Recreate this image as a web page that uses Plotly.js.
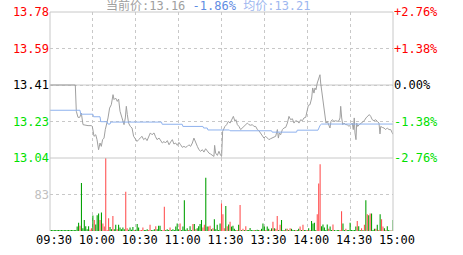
<!DOCTYPE html>
<html><head><meta charset="utf-8">
<script src="https://cdn.plot.ly/plotly-3.0.1.min.js"></script>
<style>html,body{margin:0;padding:0;background:#fff}#chart{width:463px;height:255px}</style>
</head><body><div id="chart"></div>
<script>
// ---------- data ----------
const prevClose = 13.41;
const lastPrice = '13.16';
const changePct = '-1.86%';
const avgPrice = '13.21';

const timeTickMinutes = [0, 30, 60, 90, 120, 150, 180, 210, 240];
const timeTickLabels = ['09:30', '10:00', '10:30', '11:00', '11:30', '13:30', '14:00', '14:30', '15:00'];

const priceTickVals = [13.04, 13.225, 13.41, 13.595, 13.78];
const priceTickLabels = ['13.04', '13.23', '13.41', '13.59', '13.78'];
const pctTickLabels = ['-2.76%', '-1.38%', '0.00%', '+1.38%', '+2.76%'];

const volTickVals = [83];
const volTickLabels = ['83'];
const volMax = 166;

// price line (minute since 09:30, price)
const priceT = [0, 17.7, 18.4, 19.6, 20.8, 21.9, 23.1, 24.3, 26.6, 28.9, 29.6, 30.8, 32.0, 32.9, 34.0, 35.0, 35.9, 36.8, 37.8, 38.7,
  39.6, 40.6, 41.7, 42.9, 44.1, 44.8, 45.9, 47.1, 48.0, 49.0, 50.4, 51.8, 52.7, 53.4, 54.1, 55.0, 56.2, 57.4, 58.5, 59.7,
  60.9, 62.0, 63.2, 64.4, 65.5, 66.7, 67.9, 69.0, 70.2, 71.4, 72.8, 73.7, 74.9, 76.3, 77.4, 78.6, 79.8, 80.7, 82.1, 83.3,
  84.4, 85.6, 86.7, 87.9, 89.1, 90.2, 91.4, 92.6, 93.7, 94.9, 96.1, 97.2, 98.4, 99.6, 100.7, 101.9, 103.1, 104.2, 105.4, 106.6,
  107.7, 108.9, 110.1, 111.2, 112.4, 113.6, 114.7, 115.2, 115.9, 117.1, 118.2, 119.4, 120.1, 120.8,
  122.4, 123.6, 124.8, 126.0, 127.1, 128.3, 129.4, 130.1, 131.1, 132.2, 133.4, 134.6, 135.7, 136.9, 138.1, 139.2, 140.4, 141.6,
  142.7, 143.9, 145.1, 146.2, 147.4, 148.6, 149.7, 150.9, 152.1, 153.2, 154.4, 155.6, 156.7, 157.9, 159.1, 159.8, 160.5, 161.4,
  162.6, 163.7, 164.9, 166.1, 167.2, 168.4, 169.6, 170.7, 171.9, 173.1, 174.2, 175.4, 176.6, 177.7, 178.9, 179.6, 180.8, 181.9,
  183.1, 183.8, 184.7, 185.4, 186.1, 187.0, 188.0, 188.9, 189.4, 190.1, 190.8, 191.7, 192.4, 193.1, 194.0, 195.2, 195.9, 196.6,
  197.5, 198.7, 199.9, 201.0, 202.2, 202.9, 203.4, 204.1, 204.8, 205.7, 206.9, 208.0, 209.2, 210.4, 211.5, 212.2, 212.9, 213.4,
  214.1, 214.6, 215.3, 216.4, 217.6, 218.8, 219.9, 221.1, 222.3, 223.4, 224.4, 225.5, 226.7, 227.9, 229.0, 230.2, 230.9, 231.4,
  232.5, 233.7, 234.9, 236.0, 237.2, 238.4, 239.5, 240];
const priceV = [13.41, 13.41, 13.277, 13.246, 13.246, 13.268, 13.209, 13.206, 13.204, 13.204, 13.200, 13.150, 13.158, 13.133, 13.082, 13.116, 13.099, 13.133, 13.141, 13.184,
  13.209, 13.243, 13.293, 13.310, 13.361, 13.336, 13.344, 13.327, 13.339, 13.277, 13.243, 13.209, 13.243, 13.302, 13.260, 13.217, 13.200, 13.192, 13.150, 13.133,
  13.124, 13.133, 13.141, 13.150, 13.133, 13.141, 13.128, 13.150, 13.167, 13.158, 13.167, 13.150, 13.133, 13.141, 13.128, 13.116, 13.124, 13.116, 13.128, 13.107,
  13.121, 13.133, 13.111, 13.116, 13.104, 13.119, 13.107, 13.094, 13.099, 13.094, 13.099, 13.107, 13.099, 13.116, 13.141, 13.116, 13.099, 13.082, 13.074, 13.082,
  13.070, 13.087, 13.074, 13.065, 13.060, 13.053, 13.048, 13.104, 13.065, 13.053, 13.074, 13.053, 13.050, 13.175,
  13.200, 13.209, 13.226, 13.217, 13.234, 13.251, 13.226, 13.234, 13.209, 13.200, 13.184, 13.192, 13.200, 13.209, 13.217, 13.209, 13.206, 13.209,
  13.200, 13.200, 13.184, 13.178, 13.167, 13.150, 13.141, 13.150, 13.141, 13.133, 13.138, 13.141, 13.146, 13.150, 13.184, 13.141, 13.167, 13.158,
  13.184, 13.192, 13.195, 13.217, 13.251, 13.234, 13.239, 13.217, 13.229, 13.226, 13.217, 13.234, 13.229, 13.243, 13.246, 13.277, 13.307, 13.310,
  13.344, 13.395, 13.369, 13.395, 13.386, 13.420, 13.437, 13.462, 13.420, 13.378, 13.336, 13.293, 13.243, 13.217, 13.226, 13.209, 13.192, 13.226,
  13.234, 13.226, 13.229, 13.226, 13.229, 13.243, 13.302, 13.243, 13.209, 13.217, 13.209, 13.209, 13.200, 13.209, 13.217, 13.184, 13.243, 13.167,
  13.133, 13.217, 13.200, 13.209, 13.217, 13.226, 13.229, 13.243, 13.251, 13.260, 13.251, 13.234, 13.229, 13.234, 13.226, 13.217, 13.162, 13.200,
  13.195, 13.192, 13.184, 13.192, 13.184, 13.184, 13.167, 13.16];

// average price line
const avgT = [0, 21, 21.5, 30, 30.5, 35, 35.5, 40, 40.5, 42, 42.5, 78, 78.5, 92.5, 93, 107, 107.5, 110, 110.5, 125.5,
  126, 155, 155.5, 172.5, 173, 187.5, 189, 190, 240];
const avgV = [13.282, 13.282, 13.262, 13.262, 13.249, 13.249, 13.224, 13.224, 13.212, 13.212, 13.222, 13.222, 13.211, 13.211, 13.200, 13.200, 13.192, 13.192, 13.182, 13.182,
  13.178, 13.178, 13.171, 13.171, 13.181, 13.181, 13.206, 13.212, 13.212];

// per-minute volume and direction (u = up, d = down)
const volume = [
  2, 2, 2, 2, 2, 2, 2, 2, 2, 2, 2, 2, 2, 2, 2, 2, 2, 2,
  2, 10, 19, 12, 109, 6, 25, 11, 4, 11, 3, 6, 35, 25, 15, 36, 40, 25, 42, 17, 10,
  166,
  2, 29, 9, 4, 34, 4, 14, 4, 14, 8, 4, 8, 4,
  89,
  6, 3, 8, 3, 9, 2, 3, 16, 8, 2, 2, 8, 2, 2, 4, 2, 14, 2, 2, 4, 11, 4, 12, 12, 2, 2,
  55,
  2, 4, 2, 8, 2, 4, 2, 10, 17, 4, 17, 2, 10,
  70,
  3, 6, 2, 11, 2, 16, 16, 4, 6, 11, 16, 25, 8, 14,
  121,
  10, 10, 12, 4, 6, 27, 4, 14, 2, 17,
  63, 38, 6, 57,
  11, 15, 21, 10, 12, 5, 2, 2, 14,
  59,
  2, 5, 2, 11, 2, 2, 7, 2, 2, 2, 2, 3, 2, 2, 5, 17, 10, 2, 10, 5, 2, 6, 21, 6, 5,
  34,
  2, 14, 25, 2, 2, 5, 5, 2, 6, 5, 2, 2, 2, 2, 5, 10, 2, 14, 2, 2, 2, 6, 2, 23, 17, 19, 2, 38,
  108, 152,
  11, 15, 8, 2, 15, 5, 10, 2, 15, 2, 1, 2, 2, 2,
  45,
  17, 2, 5, 2, 2, 19, 2, 2, 2, 10, 23, 11, 2, 6, 2, 14,
  70,
  38, 36, 40, 40, 2, 5, 5, 14, 2, 38, 27, 10, 6, 2, 11, 2, 1, 1, 25];
const volDir = [
  'd','d','d','d','d','d','d','d','d','d','d','d','d','d','d','d','d','d',
  'd','d','d','u','d','d','d','d','d','d','u','u','d','u','d','d','d','u','d','u','u',
  'u',
  'u','u','d','d','u','d','d','u','d','d','d','d','d',
  'u',
  'u','d','d','d','d','u','d','d','d','u','u','u','d','d','d','u','u','d','d','d','u','d','d','d','d','u',
  'u',
  'd','d','d','u','d','d','d','d','d','d','u','d','d',
  'd',
  'd','d','u','d','d','u','d','u','d','d','d','d','u','u',
  'd',
  'd','u','u','d','u','d','d','d','d','d',
  'u','u','u','d',
  'u','d','u','d','d','d','d','u','d',
  'u',
  'd','u','d','u','d','d','d','d','d','u','d','d','d','u','d','d','d','u','d','d','u','d','u','d','u',
  'u',
  'd','u','d','d','u','d','u','d','u','d','d','d','u','d','d','u','d','u','d','d','u','d','u','d','d','d','d','u',
  'u','u',
  'd','d','d','d','d','u','d','d','u','d','d','d','d','u',
  'u',
  'd','d','u','d','d','d','d','d','d','d','u','d','d','u','d','u',
  'd',
  'u','d','u','d','d','d','u','d','u','d','u','u','d','u','d','d','d','u','d'];

// ---------- drawing ----------
const FONT = 'DejaVu Sans Mono, Noto Sans CJK SC, monospace';
const RED = '#ff0000', GREEN = '#00e000', BLACK = '#000000';
const FRAME = '#c8c8c8', GRID = '#c8c8c8';
const minutes = volume.map((_, i) => i);
const tickColor = v => Math.abs(v - prevClose) < 1e-9 ? BLACK : (v > prevClose ? RED : GREEN);
const colored = (txt, c) => '<span style="color:' + c + '">' + txt + '</span>';
const priceRange = [priceTickVals[0], priceTickVals[priceTickVals.length - 1]];

const traces = [
  {type: 'bar', x: minutes, y: volume, xaxis: 'x', yaxis: 'y3', width: 0.75,
   marker: {color: volDir.map(d => d === 'u' ? '#ff5050' : '#00a000'), line: {width: 0}}, hoverinfo: 'skip'},
  {type: 'scatter', mode: 'lines', x: priceT, y: priceV, xaxis: 'x', yaxis: 'y',
   line: {color: '#a0a0a0', width: 1}, hoverinfo: 'skip'},
  {type: 'scatter', mode: 'lines', x: avgT, y: avgV, xaxis: 'x', yaxis: 'y2',
   line: {color: '#8fb2ee', width: 1}, hoverinfo: 'skip'}
];

const layout = {
  width: 463, height: 255,
  margin: {l: 50, r: 70, t: 12, b: 24, pad: 0},
  paper_bgcolor: '#ffffff', plot_bgcolor: '#ffffff',
  showlegend: false,
  font: {family: FONT, size: 12, color: BLACK},
  xaxis: {range: [0, 240], tickvals: timeTickMinutes, ticktext: timeTickLabels,
    showgrid: true, gridcolor: GRID, griddash: '3px,3px', gridwidth: 1,
    zeroline: false, showline: false, ticks: '', anchor: 'y3', ticklabelshift: 4,
    tickfont: {family: FONT, size: 12, color: BLACK}, fixedrange: true},
  yaxis: {domain: [1/3, 1], range: priceRange, tickvals: priceTickVals,
    ticktext: priceTickLabels.map((t, i) => colored(t, tickColor(priceTickVals[i]))),
    showgrid: true, gridcolor: GRID, griddash: '3px,3px', zeroline: false, showline: false,
    ticks: '', anchor: 'x', tickfont: {family: FONT, size: 12}, fixedrange: true},
  yaxis2: {overlaying: 'y', side: 'right', range: priceRange, tickvals: priceTickVals,
    ticktext: pctTickLabels.map((t, i) => colored(t, tickColor(priceTickVals[i]))),
    showgrid: false, zeroline: false, showline: false, ticks: '', anchor: 'x',
    tickfont: {family: FONT, size: 12}, fixedrange: true},
  yaxis3: {domain: [0, 1/3], range: [0, volMax], tickvals: volTickVals, ticktext: volTickLabels,
    showgrid: true, gridcolor: GRID, griddash: '3px,3px', zeroline: false, showline: false,
    ticks: '', anchor: 'x', tickfont: {family: FONT, size: 12, color: '#c0c0c0'}, fixedrange: true},
  shapes: [
    {type: 'line', xref: 'paper', yref: 'paper', x0: 0, x1: 0, y0: 0, y1: 1, line: {color: FRAME, width: 1}},
    {type: 'line', xref: 'paper', yref: 'paper', x0: 1, x1: 1, y0: 0, y1: 1, line: {color: FRAME, width: 1}},
    {type: 'line', xref: 'paper', yref: 'paper', x0: 0, x1: 1, y0: 1, y1: 1, line: {color: FRAME, width: 1}},
    {type: 'line', xref: 'paper', yref: 'paper', x0: 0, x1: 1, y0: 1/3, y1: 1/3, line: {color: FRAME, width: 1}},
    {type: 'line', xref: 'paper', yref: 'y', x0: 0, x1: 1, y0: prevClose, y1: prevClose, line: {color: FRAME, width: 1}, layer: 'below'}
  ],
  annotations: [{
    xref: 'paper', yref: 'paper', x: 0.16, y: 1, xanchor: 'left', yanchor: 'bottom', yshift: -2,
    showarrow: false, borderpad: 0,
    font: {family: FONT, size: 12},
    text: colored('当前价:' + lastPrice, '#a0a0a0') + ' ' + colored(changePct, '#5f8ce3') + ' ' + colored('均价:' + avgPrice, '#9db7ef')
  }]
};

Plotly.newPlot('chart', traces, layout, {displayModeBar: false, staticPlot: true});
</script>
</body></html>
